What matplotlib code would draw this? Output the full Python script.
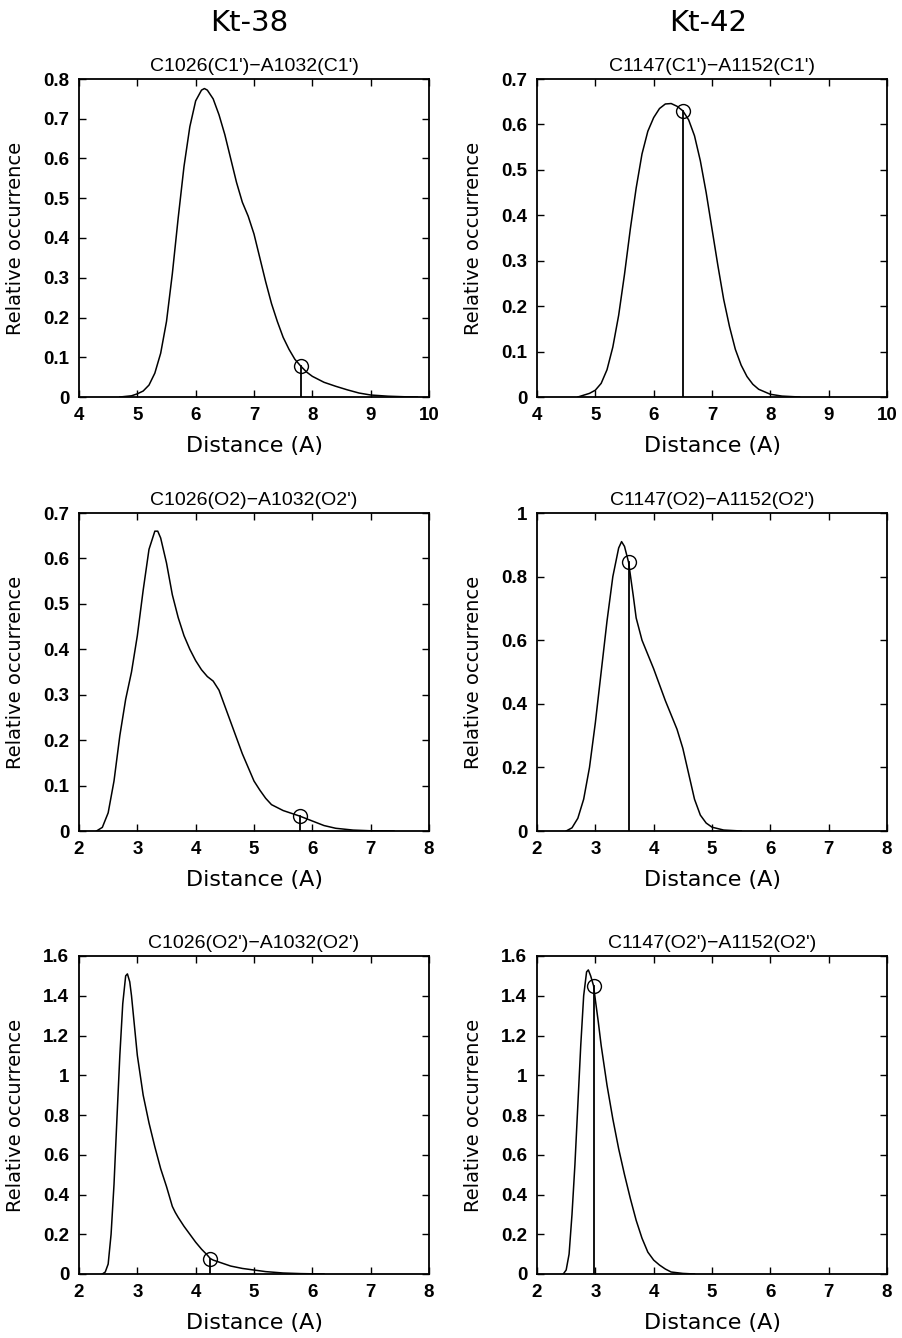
import matplotlib as mpl
mpl.use('Agg')
import matplotlib.pyplot as plt
import numpy as np

## data: distance (A) vs relative occurrence
# Kt-38, C1026(C1')-A1032(C1')
x1 = [4.7, 4.9, 5.0, 5.1, 5.2, 5.3, 5.4, 5.5, 5.6, 5.7, 5.8, 5.9, 6.0, 6.1, 6.15, 6.2, 6.3, 6.4,
      6.5, 6.6, 6.7, 6.8, 6.9, 7.0, 7.1, 7.2, 7.3, 7.4, 7.5, 7.6, 7.7, 7.8, 7.9, 8.0, 8.2, 8.4,
      8.6, 8.8, 9.0, 9.3, 9.6, 9.8]
y1 = [0.0, 0.003, 0.008, 0.015, 0.03, 0.06, 0.11, 0.19, 0.31, 0.45, 0.58, 0.68, 0.745, 0.772,
      0.776, 0.772, 0.75, 0.71, 0.66, 0.60, 0.54, 0.49, 0.455, 0.41, 0.35, 0.29, 0.235, 0.19,
      0.15, 0.12, 0.095, 0.078, 0.063, 0.052, 0.037, 0.027, 0.018, 0.01, 0.005, 0.002, 0.0005, 0.0]
m1 = (7.8, 0.078)
# Kt-42, C1147(C1')-A1152(C1')
x2 = [4.7, 4.9, 5.0, 5.1, 5.2, 5.3, 5.4, 5.5, 5.6, 5.7, 5.8, 5.9, 6.0, 6.1, 6.2, 6.3, 6.4, 6.5,
      6.6, 6.7, 6.8, 6.9, 7.0, 7.1, 7.2, 7.3, 7.4, 7.5, 7.6, 7.7, 7.8, 8.0, 8.2, 8.5]
y2 = [0.0, 0.008, 0.015, 0.03, 0.06, 0.11, 0.18, 0.27, 0.37, 0.46, 0.535, 0.585, 0.615, 0.635,
      0.645, 0.646, 0.64, 0.63, 0.61, 0.575, 0.52, 0.45, 0.37, 0.29, 0.215, 0.155, 0.105, 0.07,
      0.045, 0.028, 0.017, 0.006, 0.002, 0.0]
m2 = (6.5, 0.63)
# Kt-38, C1026(O2)-A1032(O2')
x3 = [2.3, 2.4, 2.5, 2.6, 2.7, 2.8, 2.9, 3.0, 3.1, 3.2, 3.3, 3.35, 3.4, 3.5, 3.6, 3.7, 3.8, 3.9,
      4.0, 4.1, 4.2, 4.3, 4.4, 4.5, 4.6, 4.7, 4.8, 4.9, 5.0, 5.1, 5.2, 5.3, 5.5, 5.78, 6.0, 6.2,
      6.4, 6.7, 7.0, 7.4]
y3 = [0.0, 0.008, 0.04, 0.11, 0.21, 0.29, 0.35, 0.43, 0.53, 0.62, 0.66, 0.66, 0.645, 0.59, 0.52,
      0.47, 0.43, 0.40, 0.375, 0.355, 0.34, 0.33, 0.31, 0.275, 0.24, 0.205, 0.17, 0.14, 0.11,
      0.09, 0.072, 0.058, 0.045, 0.033, 0.022, 0.012, 0.006, 0.002, 0.0005, 0.0]
m3 = (5.78, 0.033)
# Kt-42, C1147(O2)-A1152(O2')
x4 = [2.5, 2.6, 2.7, 2.8, 2.9, 3.0, 3.1, 3.2, 3.3, 3.4, 3.45, 3.5, 3.57, 3.65, 3.7, 3.8, 3.9,
      4.0, 4.1, 4.2, 4.3, 4.4, 4.5, 4.6, 4.7, 4.8, 4.9, 5.0, 5.2, 5.5]
y4 = [0.0, 0.01, 0.04, 0.10, 0.20, 0.34, 0.50, 0.66, 0.80, 0.89, 0.91, 0.895, 0.845, 0.74, 0.67,
      0.60, 0.555, 0.51, 0.46, 0.41, 0.365, 0.32, 0.26, 0.18, 0.10, 0.05, 0.025, 0.012, 0.003, 0.0]
m4 = (3.57, 0.845)
# Kt-38, C1026(O2')-A1032(O2')
x5 = [2.4, 2.45, 2.5, 2.55, 2.6, 2.65, 2.7, 2.75, 2.8, 2.83, 2.87, 2.9, 2.95, 3.0, 3.1, 3.2, 3.3,
      3.4, 3.5, 3.6, 3.65, 3.7, 3.8, 3.9, 4.0, 4.1, 4.2, 4.25, 4.3, 4.4, 4.5, 4.6, 4.8, 5.0, 5.2,
      5.5, 5.8, 6.2]
y5 = [0.0, 0.01, 0.05, 0.2, 0.45, 0.78, 1.1, 1.36, 1.5, 1.51, 1.47, 1.4, 1.25, 1.1, 0.9, 0.76,
      0.64, 0.53, 0.44, 0.34, 0.31, 0.285, 0.24, 0.2, 0.16, 0.125, 0.095, 0.078, 0.07, 0.06, 0.05,
      0.04, 0.028, 0.02, 0.012, 0.005, 0.002, 0.0]
m5 = (4.25, 0.075)
# Kt-42, C1147(O2')-A1152(O2')
x6 = [2.45, 2.5, 2.55, 2.6, 2.65, 2.7, 2.75, 2.8, 2.85, 2.88, 2.92, 2.97, 3.0, 3.05, 3.1, 3.2,
      3.3, 3.4, 3.5, 3.6, 3.7, 3.8, 3.9, 4.0, 4.1, 4.2, 4.3, 4.5, 4.7]
y6 = [0.0, 0.02, 0.1, 0.3, 0.55, 0.85, 1.15, 1.4, 1.52, 1.53, 1.5, 1.45, 1.38, 1.27, 1.15, 0.95,
      0.78, 0.63, 0.5, 0.38, 0.27, 0.18, 0.11, 0.07, 0.045, 0.025, 0.01, 0.003, 0.0]
m6 = (2.97, 1.45)

titles = ["C1026(C1')\u2212A1032(C1')", "C1147(C1')\u2212A1152(C1')",
          "C1026(O2)\u2212A1032(O2')", "C1147(O2)\u2212A1152(O2')",
          "C1026(O2')\u2212A1032(O2')", "C1147(O2')\u2212A1152(O2')"]
xlims = [(4, 10), (4, 10), (2, 8), (2, 8), (2, 8), (2, 8)]
ylims = [(0, 0.8), (0, 0.7), (0, 0.7), (0, 1), (0, 1.6), (0, 1.6)]
ysteps = [0.1, 0.1, 0.1, 0.2, 0.2, 0.2]
curves = [(x1, y1, m1), (x2, y2, m2), (x3, y3, m3), (x4, y4, m4), (x5, y5, m5), (x6, y6, m6)]


def fmt(v, pos=None):
    return '%g' % round(v, 2)


fig = plt.figure(figsize=(9.02, 13.38), dpi=100)
W, H = 902., 1338.
lefts = [79, 537]
tops = [79, 513, 956]
aw, ah = 350, 318

for i, (xs, ys, mk) in enumerate(curves):
    r, c = divmod(i, 2)
    ax = fig.add_axes([lefts[c]/W, 1 - (tops[r] + ah)/H, aw/W, ah/H])
    ax.plot(xs, ys, color='black', lw=1.1)
    ax.plot([mk[0], mk[0]], [0, mk[1]], color='black', lw=1.3)
    ax.plot(mk[0], mk[1], 'o', mfc='none', mec='black', ms=10, mew=1.0)
    ax.set_xlim(*xlims[i])
    ax.set_ylim(*ylims[i])
    ax.set_xticks(np.arange(xlims[i][0], xlims[i][1] + 0.5, 1))
    ax.set_yticks(np.arange(0, ylims[i][1] + 1e-6, ysteps[i]))
    ax.xaxis.set_major_formatter(mpl.ticker.FuncFormatter(fmt))
    ax.yaxis.set_major_formatter(mpl.ticker.FuncFormatter(fmt))
    ax.tick_params(direction='in', top=True, right=True, length=5, width=1,
                   labelsize=13.5, pad=7)
    for lab in ax.get_xticklabels() + ax.get_yticklabels():
        lab.set_fontfamily('Liberation Sans')
        lab.set_fontweight('bold')
    for sp in ax.spines.values():
        sp.set_linewidth(1.3)
    ax.set_title(titles[i], fontsize=14, family='Liberation Sans', pad=6)
    ax.set_xlabel('Distance (A)', fontsize=16, family='DejaVu Sans', labelpad=9)
    ax.set_ylabel('Relative occurrence', fontsize=14, family='DejaVu Sans', labelpad=13)

fig.text(249/W, 1 - 23/H, 'Kt-38', fontsize=21, family='DejaVu Sans', ha='center', va='center')
fig.text(708/W, 1 - 23/H, 'Kt-42', fontsize=21, family='DejaVu Sans', ha='center', va='center')

plt.savefig('out.png', dpi=100)
plt.close(fig)
